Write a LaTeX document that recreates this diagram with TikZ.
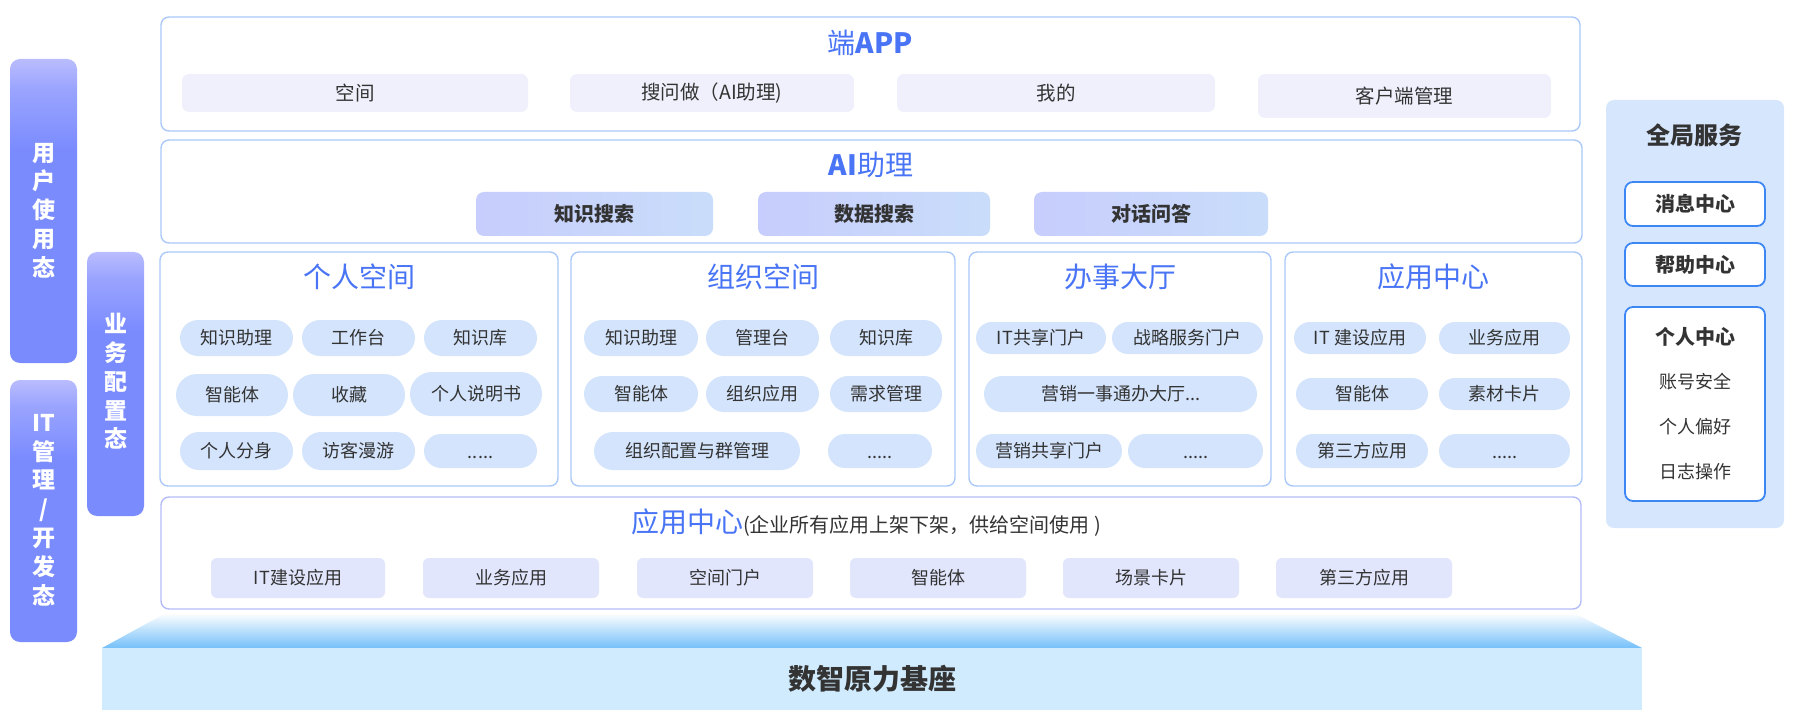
\documentclass[tikz,border=0pt]{standalone}
\usepackage{fontspec}
\setmainfont{Noto Sans CJK SC}
\usetikzlibrary{shapes.misc}
\definecolor{boxline}{HTML}{AAC8F8}
\definecolor{boxline2}{HTML}{B3BCF8}
\definecolor{appfill}{HTML}{F0F0FD}
\definecolor{aione}{HTML}{C7CDFC}
\definecolor{aitwo}{HTML}{C9DDFA}
\definecolor{pillfill}{HTML}{D3E4FC}
\definecolor{cfill}{HTML}{E2E6FD}
\definecolor{titleblue}{HTML}{4874F5}
\definecolor{txt}{HTML}{333333}
\definecolor{barbase}{HTML}{7A8BFE}
\definecolor{barmid}{HTML}{9AA4FE}
\definecolor{barlight}{HTML}{B9BCFD}
\definecolor{svcbg}{HTML}{D6E6FC}
\definecolor{svcblue}{HTML}{3D87F5}
\definecolor{trapbot}{HTML}{74C0F9}
\definecolor{basefill}{HTML}{D0EBFD}
\pgfdeclareverticalshading{barshade}{100bp}{color(0bp)=(barbase); color(60bp)=(barbase); color(70bp)=(barmid); color(75bp)=(barlight); color(100bp)=(barlight)}
\newcommand{\R}[7]{\node[#1, minimum width={(#5-#3)*1pt}, minimum height={(#6-#4)*1pt}] (#2) at ({(#3+#5)/2},{(#4+#6)/2}) {#7};}
\newcommand{\mydots}{\vphantom{空}.....}
\begin{document}
\begin{tikzpicture}[x=1pt,y=-1pt,
  bigbox/.style={draw=boxline, line width=1.4pt, rounded corners=8pt, fill=white, inner sep=0pt},
  appitem/.style={fill=appfill, rounded corners=7pt, inner sep=0pt, font=\fontsize{19.5}{23}\selectfont, text=txt},
  aiitem/.style={left color=aione, right color=aitwo, rounded corners=8pt, inner sep=0pt, font=\fontsize{20}{24}\selectfont\bfseries, text=txt},
  pill/.style={rounded rectangle, fill=pillfill, inner sep=0pt, font=\fontsize{18}{22}\selectfont, text=txt},
  cbox/.style={fill=cfill, rounded corners=6pt, inner sep=0pt, font=\fontsize{18}{22}\selectfont, text=txt},
  ttl/.style={inner sep=0pt, font=\fontsize{28}{32}\selectfont, text=titleblue},
  barbox/.style={shading=barshade, rounded corners=10pt, inner sep=0pt},
  bartext/.style={inner sep=0pt, align=center, text=white, font=\fontsize{23}{28.8}\selectfont\bfseries},
  svcbox/.style={draw=svcblue, line width=1.8pt, fill=white, rounded corners=8pt, inner sep=0pt},
  svctext/.style={inner sep=0pt, text=txt, font=\fontsize{18}{22}\selectfont}
]
\useasboundingbox (0,0) rectangle (1800,722);

% left bars
\R{barbox}{ubar}{10}{59}{77}{363}{}
\node[bartext] (ubartext) at (43.5,210.5) {用\\户\\使\\用\\态};
\R{barbox}{itbar}{10}{380}{77}{642}{}
\node[bartext] (itbartext) at (43.5,510) {IT\\管\\理\\/\\开\\发\\态};
\R{barbox}{bizbar}{87}{252}{144}{516}{}
\node[bartext] (bizbartext) at (115.5,381.5) {业\\务\\配\\置\\态};

% APP box
\R{bigbox}{appbox}{161}{17}{1580}{131}{}
\node[ttl] (apptitle) at (870,43) {端\textbf{APP}};
\R{appitem}{app1}{182}{74}{528}{112}{空间}
\R{appitem}{app2}{570}{74}{854}{112}{搜问做（AI助理)}
\R{appitem}{app3}{897}{74}{1215}{112}{我的}
\R{appitem}{app4}{1258}{74}{1551}{118}{客户端管理}

% AI box
\R{bigbox}{aibox}{161}{140}{1582}{243}{}
\node[ttl] (aititle) at (871,165) {\textbf{AI}助理};
\R{aiitem}{ai1}{476}{192}{713}{236}{知识搜索}
\R{aiitem}{ai2}{758}{192}{990}{236}{数据搜索}
\R{aiitem}{ai3}{1034}{192}{1268}{236}{对话问答}

% panels
\R{bigbox}{p1}{160}{252}{558}{486}{}
\node[ttl] (p1title) at (359,277) {个人空间};
\R{pill}{p1a}{180}{320}{293}{356}{知识助理}
\R{pill}{p1b}{302}{320}{415}{356}{工作台}
\R{pill}{p1c}{424}{320}{537}{356}{知识库}
\R{pill}{p1d}{176}{374}{288}{416}{智能体}
\R{pill}{p1e}{293}{374}{405}{416}{收藏}
\R{pill}{p1f}{410}{372}{542}{416}{个人说明书}
\R{pill}{p1g}{180}{432}{293}{470}{个人分身}
\R{pill}{p1h}{302}{432}{415}{470}{访客漫游}
\R{pill}{p1i}{424}{434}{537}{468}{\mydots}

\R{bigbox}{p2}{571}{252}{955}{486}{}
\node[ttl] (p2title) at (763,277) {组织空间};
\R{pill}{p2a}{584}{320}{698}{356}{知识助理}
\R{pill}{p2b}{706}{320}{819}{356}{管理台}
\R{pill}{p2c}{830}{320}{942}{356}{知识库}
\R{pill}{p2d}{584}{376}{698}{412}{智能体}
\R{pill}{p2e}{706}{376}{819}{412}{组织应用}
\R{pill}{p2f}{830}{376}{942}{412}{需求管理}
\R{pill}{p2g}{594}{432}{800}{470}{组织配置与群管理}
\R{pill}{p2h}{828}{434}{932}{468}{\mydots}

\R{bigbox}{p3}{969}{252}{1271}{486}{}
\node[ttl] (p3title) at (1120,277) {办事大厅};
\R{pill}{p3a}{976}{322}{1106}{354}{IT共享门户}
\R{pill}{p3b}{1112}{322}{1263}{354}{战略服务门户}
\R{pill}{p3c}{984}{376}{1257}{412}{营销一事通办大厅...}
\R{pill}{p3d}{976}{434}{1122}{468}{营销共享门户}
\R{pill}{p3e}{1128}{434}{1263}{468}{\mydots}

\R{bigbox}{p4}{1285}{252}{1582}{486}{}
\node[ttl] (p4title) at (1433.5,277) {应用中心};
\R{pill}{p4a}{1294}{322}{1426}{354}{IT 建设应用}
\R{pill}{p4b}{1439}{322}{1570}{354}{业务应用}
\R{pill}{p4c}{1296}{378}{1428}{410}{智能体}
\R{pill}{p4d}{1439}{378}{1570}{410}{素材卡片}
\R{pill}{p4e}{1296}{434}{1428}{468}{第三方应用}
\R{pill}{p4f}{1439}{434}{1570}{468}{\mydots}

% bottom app center
\R{bigbox, draw=boxline2}{cbig}{161}{497}{1581}{609}{}
\node[inner sep=0pt, anchor=west] (ctitle) at (631,523) {{\fontsize{28}{32}\selectfont\color{titleblue}应用中心}{\fontsize{20}{24}\selectfont\color{txt}(企业所有应用上架下架，供给空间使用 )}};
\R{cbox}{c1}{211}{558}{385}{598}{IT建设应用}
\R{cbox}{c2}{423}{558}{599}{598}{业务应用}
\R{cbox}{c3}{637}{558}{813}{598}{空间门户}
\R{cbox}{c4}{850}{558}{1026}{598}{智能体}
\R{cbox}{c5}{1063}{558}{1239}{598}{场景卡片}
\R{cbox}{c6}{1276}{558}{1452}{598}{第三方应用}

% base
\shade[top color=white, bottom color=trapbot] (166,613) -- (1574,613) -- (1642,648) -- (102,648) -- cycle;
\R{fill=basefill, inner sep=0pt, text=txt, font=\fontsize{28}{32}\selectfont\bfseries}{base}{102}{648}{1642}{710}{数智原力基座}

% right service panel
\R{fill=svcbg, rounded corners=8pt, inner sep=0pt}{svc}{1606}{100}{1784}{528}{}
\node[inner sep=0pt, text=txt, font=\fontsize{24}{28}\selectfont\bfseries] (svctitle) at (1694,135) {全局服务};
\R{svcbox, font=\fontsize{20}{24}\selectfont\bfseries, text=txt}{msg}{1625}{182}{1765}{226}{消息中心}
\R{svcbox, font=\fontsize{20}{24}\selectfont\bfseries, text=txt}{help}{1625}{243}{1765}{286}{帮助中心}
\R{svcbox}{pers}{1625}{307}{1765}{501}{}
\node[svctext, font=\fontsize{20}{24}\selectfont\bfseries] (pers0) at (1695,337) {个人中心};
\node[svctext] (pers1) at (1695,382) {账号安全};
\node[svctext] (pers2) at (1695,427) {个人偏好};
\node[svctext] (pers3) at (1695,472) {日志操作};
\end{tikzpicture}
\end{document}
